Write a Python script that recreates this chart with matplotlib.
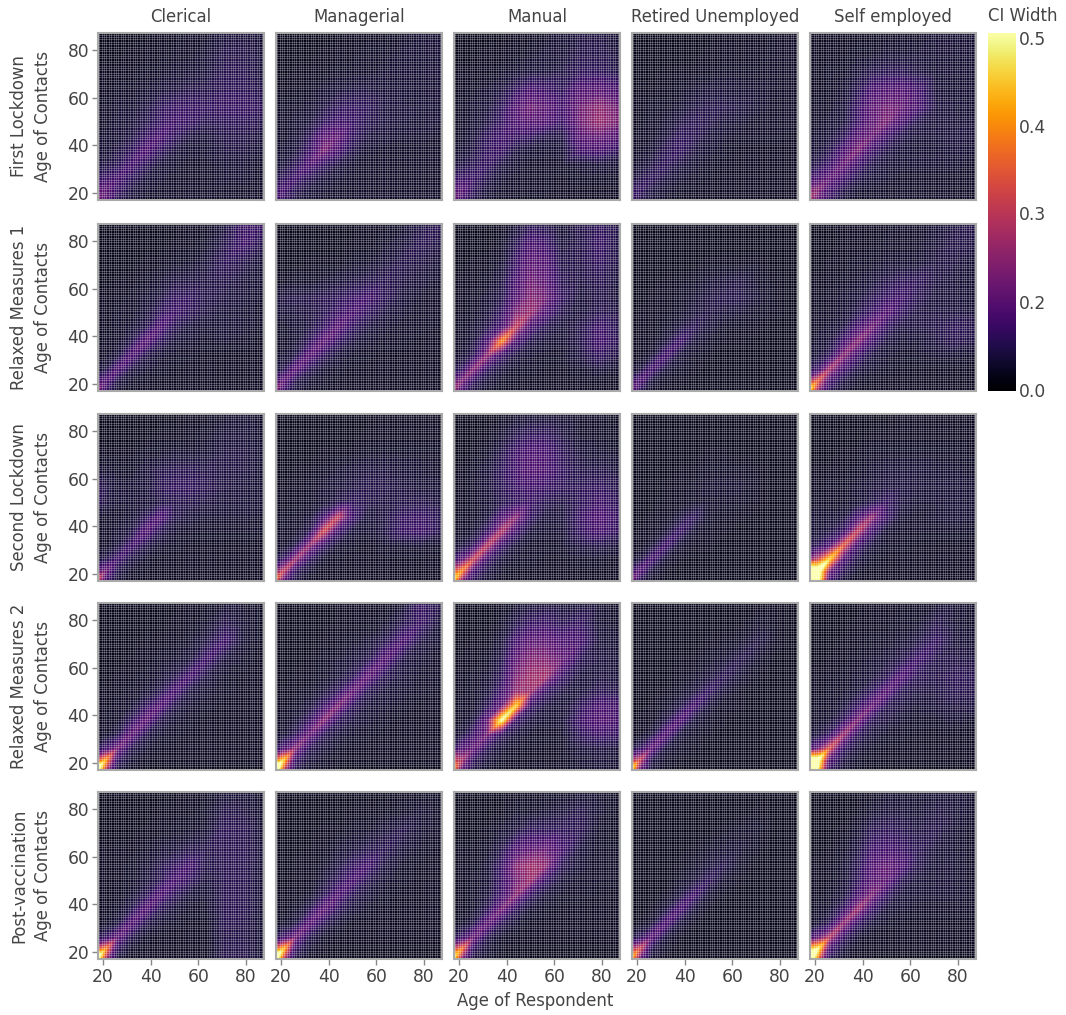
import numpy as np
import matplotlib
matplotlib.use('Agg')
import matplotlib.pyplot as plt
import matplotlib.tri as mtri
from matplotlib.colors import FuncNorm

occupations = ['Clerical', 'Managerial', 'Manual', 'Retired Unemployed', 'Self employed']
periods = ['First Lockdown', 'Relaxed Measures 1', 'Second Lockdown', 'Relaxed Measures 2', 'Post-vaccination']
ticks = [20, 40, 60, 80]
ci_ticks = [0.0, 0.2, 0.3, 0.4, 0.5]

ages = [17, 21, 26, 32, 38, 44, 50, 56, 63, 71, 79, 88]

# CI width x100, rows go from oldest contact (top) to youngest (bottom)
first_clerical = [
    [3,3,3,3,3,4,4,5,5,7,7,6], [3,3,3,4,4,4,5,5,6,9,9,7], [4,4,4,4,5,5,6,6,7,10,10,7], [4,4,5,5,6,7,8,9,9,11,11,9],
    [5,5,6,6,8,11,13,13,12,13,13,11], [5,5,6,7,9,12,14,13,10,11,11,9], [5,6,6,8,12,16,12,8,7,9,9,7], [6,6,8,11,17,12,8,6,6,8,8,6],
    [7,8,10,15,11,7,6,5,5,6,6,5], [11,13,15,11,7,6,5,5,5,6,6,5], [19,20,13,8,6,5,5,5,5,5,5,5], [23,19,10,7,5,5,5,5,5,5,5,5]]
first_managerial = [
    [3,3,3,3,3,3,4,4,4,5,6,6], [3,3,3,3,4,4,4,5,5,6,6,6], [3,3,4,4,4,5,5,5,6,6,6,6], [4,4,4,5,6,7,8,8,7,7,6,6],
    [4,5,5,6,8,11,12,11,8,7,7,6], [5,5,6,7,11,14,13,10,8,7,6,6], [5,5,6,10,19,20,12,8,7,6,6,5], [5,6,7,13,23,16,9,6,5,5,5,5],
    [6,7,10,17,12,8,6,5,5,5,5,5], [9,11,14,10,7,6,5,5,5,5,5,5], [14,15,10,7,6,5,5,5,5,5,5,5], [16,13,8,6,5,5,5,5,5,5,5,5]]
first_manual = [
    [3,3,3,3,3,4,4,5,6,8,8,6], [3,3,3,4,4,4,5,6,6,9,9,7], [4,4,4,4,5,6,7,7,8,11,11,8], [4,4,5,6,8,12,16,14,11,18,19,15],
    [5,5,6,7,11,18,22,20,15,22,25,21], [5,5,6,8,12,17,19,18,13,22,26,22], [5,5,7,11,14,13,12,9,8,19,21,17], [6,6,8,12,13,8,6,6,6,15,16,11],
    [7,8,10,12,8,6,5,5,5,6,7,6], [12,13,13,9,6,5,5,5,4,5,5,5], [20,19,11,7,5,5,5,5,4,4,4,4], [22,16,9,6,5,4,4,4,4,4,4,4]]
first_retired = [
    [3,3,3,3,3,3,3,4,4,4,5,5], [3,3,3,3,3,3,4,4,4,4,5,5], [3,3,3,4,4,4,4,5,5,5,5,5], [3,4,4,4,5,6,7,7,6,6,5,5],
    [4,4,5,5,6,8,9,9,8,6,5,5], [4,4,5,6,8,10,9,7,6,5,5,5], [4,5,5,7,11,10,7,6,5,5,5,4], [5,5,6,10,12,8,6,5,4,4,4,4],
    [5,6,8,11,8,6,5,4,4,4,4,4], [7,9,11,8,6,5,4,4,4,4,4,4], [12,12,8,6,5,4,4,4,4,4,4,4], [13,10,7,5,4,4,4,4,4,4,4,4]]
first_self = [
    [4,4,4,4,4,4,5,5,5,6,6,6], [4,4,4,4,5,5,6,6,6,6,6,6], [4,4,5,5,7,9,10,10,8,6,6,6], [4,4,5,6,10,16,18,18,15,7,6,6],
    [5,5,5,7,13,20,22,21,16,8,7,6], [5,5,6,7,13,20,23,16,9,7,7,7], [5,6,7,10,18,21,14,9,7,7,8,7], [6,7,9,16,23,14,9,7,6,6,7,6],
    [8,9,13,21,14,9,7,6,6,6,6,5], [14,16,20,14,9,7,6,5,5,5,5,5], [24,24,15,9,6,5,5,5,5,5,5,5], [28,21,12,7,5,5,5,5,5,5,5,5]]

relaxed1_clerical = [
    [3,3,3,3,3,3,3,4,4,7,13,12], [3,3,3,3,3,3,4,4,5,9,14,9], [3,3,3,3,4,4,5,5,7,11,9,6], [3,3,4,4,5,6,8,8,8,9,7,6],
    [4,4,4,5,6,8,12,12,9,8,7,5], [4,4,5,5,7,11,14,11,8,7,6,5], [4,4,5,6,9,17,10,7,6,7,6,5], [4,5,5,9,19,11,7,6,5,6,5,4],
    [5,5,7,17,9,6,5,5,4,4,4,4], [6,8,17,8,6,5,4,4,4,4,4,4], [15,18,8,5,4,4,4,4,4,4,4,4], [25,13,6,4,4,4,4,4,4,4,4,4]]
relaxed1_managerial = [
    [3,3,3,3,3,3,3,4,4,5,8,10], [3,3,3,3,3,3,4,4,5,7,10,8], [3,3,3,4,4,4,5,5,7,9,8,6], [4,4,5,5,6,7,8,9,10,8,7,5],
    [8,8,9,9,10,11,13,15,11,7,5,5], [7,7,7,8,10,13,16,12,8,6,5,5], [4,5,6,8,12,19,12,8,6,5,5,4], [4,5,6,11,20,12,8,6,5,5,4,4],
    [5,6,8,19,11,7,5,5,4,4,4,4], [7,9,19,10,6,5,4,4,4,4,4,4], [17,20,9,6,5,4,4,4,4,4,4,4], [26,14,7,5,4,4,4,4,4,4,4,4]]
relaxed1_manual = [
    [3,3,3,3,4,6,9,8,5,9,11,8], [3,3,3,3,5,10,16,14,7,9,13,8], [3,3,4,4,6,13,20,18,9,9,12,8], [4,4,4,5,8,16,22,20,10,8,10,7],
    [4,4,5,6,9,18,24,22,12,7,9,7], [4,4,5,7,12,23,26,17,9,7,10,8], [4,5,6,9,15,30,16,10,7,9,14,9], [5,5,7,16,39,16,9,7,6,9,15,10],
    [5,6,10,25,13,8,6,5,5,8,12,8], [8,11,24,11,7,5,5,4,4,5,7,5], [20,23,11,7,5,4,4,4,4,4,4,4], [27,16,8,5,4,4,4,4,4,4,4,4]]
relaxed1_retired = [
    [3,3,3,3,3,3,3,3,3,3,3,3], [3,3,3,3,3,3,3,3,3,3,3,3], [3,3,3,3,3,3,4,4,4,4,3,3], [3,3,3,4,4,5,6,7,8,5,4,3],
    [3,3,4,4,5,6,8,9,9,6,4,3], [3,4,4,4,5,7,8,7,6,5,4,3], [3,4,4,5,7,10,7,5,4,4,3,3], [4,4,4,7,14,7,5,4,4,3,3,3],
    [4,4,6,15,7,5,4,3,3,3,3,3], [5,7,15,7,5,4,3,3,3,3,3,3], [13,17,7,4,4,3,3,3,3,3,3,3], [22,11,5,4,3,3,3,3,3,3,3,3]]
relaxed1_self = [
    [3,3,3,4,4,4,4,5,5,6,8,9], [3,3,3,4,4,4,5,5,5,7,9,8], [3,3,4,4,5,5,6,6,6,8,8,6], [4,4,4,5,6,7,9,11,11,8,7,6],
    [4,4,5,6,7,10,13,14,10,7,7,6], [4,5,5,6,9,13,18,12,8,8,8,7], [5,5,6,8,15,22,12,8,8,9,11,9], [5,6,7,14,24,14,8,6,6,8,10,8],
    [6,7,10,24,14,8,6,5,5,6,6,5], [10,13,27,14,8,6,5,4,4,4,4,4], [27,35,15,8,5,4,4,4,4,4,4,4], [50,26,10,6,4,4,4,4,4,4,4,4]]

second_clerical = [
    [3,3,3,3,3,3,3,4,4,5,6,5], [3,3,3,3,3,4,4,4,5,7,7,5], [4,4,4,4,5,5,6,6,6,8,8,6], [6,6,5,5,7,9,10,10,9,8,8,6],
    [11,9,6,6,7,10,12,12,10,8,7,6], [12,8,6,6,6,8,9,9,8,7,7,6], [6,5,5,6,10,17,9,7,6,6,6,5], [5,5,6,8,18,10,6,5,5,5,5,5],
    [5,5,7,14,9,6,5,4,4,4,4,4], [7,9,14,8,5,4,4,4,4,4,4,4], [18,22,9,5,4,4,4,4,4,4,4,4], [36,15,7,4,4,4,4,4,4,4,4,4]]
second_managerial = [
    [3,3,3,3,3,3,3,3,4,4,4,4], [3,3,3,3,3,3,3,4,4,4,4,4], [3,3,3,3,4,4,4,5,5,5,5,5], [3,3,4,4,5,6,7,8,8,7,6,5],
    [4,4,4,5,6,7,8,9,9,8,7,6], [4,4,4,5,6,9,11,9,8,9,9,7], [4,5,5,6,14,30,14,7,8,12,13,9], [4,5,5,9,32,14,7,6,8,13,14,9],
    [5,5,8,25,12,6,5,4,5,6,6,5], [8,12,26,11,5,4,4,4,4,4,4,4], [22,30,11,6,4,4,4,4,4,4,4,4], [38,18,8,4,4,4,4,4,4,4,4,4]]
second_manual = [
    [3,3,3,3,4,5,5,5,5,5,5,4], [3,3,3,4,6,9,11,11,8,5,5,4], [3,3,4,5,9,14,17,16,11,7,6,5], [4,4,5,7,11,15,18,17,12,9,9,7],
    [4,4,5,7,10,13,14,13,11,11,12,9], [4,4,5,6,9,12,13,10,8,11,14,10], [4,5,5,7,16,24,12,7,7,13,17,12], [5,5,6,12,28,14,7,6,6,12,16,11],
    [6,7,11,29,13,7,5,5,5,8,9,7], [12,18,31,13,7,5,5,4,4,5,5,4], [32,39,15,8,5,4,4,4,4,4,4,4], [48,24,10,6,4,4,4,4,4,4,4,4]]
second_retired = [
    [3,3,3,3,3,3,3,3,3,3,3,3], [3,3,3,3,3,3,3,3,3,3,3,3], [3,3,3,3,3,3,4,4,3,3,3,3], [3,3,3,3,4,4,5,5,5,4,3,3],
    [3,3,3,4,4,5,6,6,6,4,3,3], [3,3,3,4,4,5,5,5,5,4,3,3], [3,3,4,4,7,11,5,4,4,3,3,3], [3,4,4,6,13,6,4,4,3,3,3,3],
    [4,4,6,14,6,4,4,3,3,3,3,3], [5,7,15,6,4,3,3,3,3,3,3,3], [14,18,7,4,3,3,3,3,3,3,3,3], [25,10,5,3,3,3,3,3,3,3,3,3]]
second_self = [
    [3,3,3,3,3,3,3,4,4,4,4,4], [3,3,3,3,3,4,4,4,4,4,4,4], [3,3,3,4,4,5,5,5,5,5,5,4], [4,4,4,4,5,6,7,7,7,6,6,5],
    [4,4,5,5,6,7,8,8,7,7,7,6], [5,5,5,5,6,9,12,8,6,6,7,6], [6,6,6,7,15,25,13,6,5,6,7,6], [6,6,8,12,30,14,6,5,5,5,5,5],
    [9,10,16,34,14,7,5,5,4,4,4,4], [22,30,45,16,8,5,4,4,4,4,4,4], [60,58,22,10,5,4,4,4,4,4,4,4], [75,55,14,6,4,4,4,4,4,4,4,4]]

relaxed2_clerical = [
    [3,3,3,3,3,3,3,4,4,5,5,4], [3,3,3,3,3,3,4,4,5,9,6,4], [3,3,3,3,4,4,4,5,8,14,6,4], [3,3,3,4,4,5,6,7,14,7,5,4],
    [3,3,4,4,5,6,9,15,8,5,4,4], [4,4,4,5,6,9,16,8,6,5,4,4], [4,4,5,6,11,18,9,6,5,4,4,4], [4,5,5,11,20,9,6,5,4,4,4,4],
    [5,5,8,20,9,6,5,4,4,4,4,4], [8,14,22,9,6,4,4,4,4,4,4,4], [30,42,12,6,4,4,4,4,4,4,4,4], [60,30,8,4,3,3,3,3,3,3,3,3]]
relaxed2_managerial = [
    [3,3,3,3,3,4,4,4,4,5,12,8], [3,3,3,3,3,4,4,4,5,9,13,6], [3,3,3,3,4,4,5,6,9,16,8,5], [3,3,3,4,5,6,7,9,18,8,6,5],
    [3,3,4,4,5,7,10,20,10,7,5,5], [4,4,4,5,7,11,21,10,7,6,5,4], [4,4,5,7,13,23,11,7,6,5,4,4], [4,5,6,12,24,11,8,6,5,4,4,4],
    [5,6,10,21,10,7,5,5,4,4,4,4], [9,16,24,10,7,5,4,4,4,4,4,4], [34,45,13,7,5,4,4,4,4,4,4,4], [65,32,9,5,4,3,3,3,3,3,3,3]]
relaxed2_manual = [
    [3,3,3,3,4,5,6,6,6,6,6,5], [3,3,3,3,5,9,12,13,10,12,6,5], [3,3,4,4,7,15,20,20,17,15,7,6], [4,4,4,5,9,20,24,24,21,10,8,7],
    [4,4,5,6,11,23,27,27,13,7,8,7], [4,4,5,7,14,25,26,13,8,7,10,9], [4,5,5,10,20,44,13,8,6,11,16,14], [5,5,7,20,50,13,8,6,6,14,18,15],
    [5,7,13,22,11,7,5,5,5,11,14,12], [9,17,20,10,6,5,4,4,4,7,8,7], [32,28,11,7,5,4,4,4,4,6,7,6], [42,20,8,5,4,4,4,4,4,5,6,5]]
relaxed2_retired = [
    [3,3,3,3,3,3,3,3,3,3,4,3], [3,3,3,3,3,3,3,3,3,5,4,3], [3,3,3,3,3,3,4,4,5,8,4,3], [3,3,3,3,4,4,5,6,9,5,3,3],
    [3,3,3,3,4,5,7,10,6,4,3,3], [3,3,3,4,5,7,12,7,4,3,3,3], [3,3,4,5,8,15,7,4,4,3,3,3], [3,4,4,8,17,7,5,4,3,3,3,3],
    [4,4,7,18,7,5,4,3,3,3,3,3], [7,11,20,7,5,4,3,3,3,3,3,3], [26,32,9,5,4,3,3,3,3,3,3,3], [52,22,7,4,3,3,3,3,3,3,3,3]]
relaxed2_self = [
    [3,3,3,3,3,4,4,4,4,5,6,5], [3,3,3,3,4,4,4,5,5,9,6,5], [3,3,3,4,4,5,5,6,8,12,7,6], [3,3,4,4,5,6,7,9,14,9,9,8],
    [4,4,4,5,6,7,10,17,10,9,11,10], [4,4,5,5,7,11,19,10,8,8,10,9], [4,5,5,7,12,21,10,8,6,7,8,8], [5,5,6,11,23,10,8,6,5,5,6,5],
    [6,7,11,26,11,7,5,5,4,4,4,4], [14,20,33,12,7,5,4,4,4,4,4,4], [58,56,17,8,5,4,4,4,4,4,4,4], [72,50,12,6,4,3,3,3,3,3,3,3]]

postvac_clerical = [
    [3,3,3,3,3,3,3,4,4,6,6,4], [3,3,3,3,3,4,4,4,5,9,8,5], [3,3,3,3,4,4,5,5,6,11,10,6], [4,4,4,4,5,6,7,9,9,10,10,7],
    [4,4,4,5,6,9,12,15,9,10,10,6], [4,4,4,5,7,10,16,12,7,10,10,6], [4,4,4,6,10,17,11,7,6,10,10,6], [4,4,5,9,18,10,7,5,5,10,10,6],
    [4,5,7,18,9,6,5,4,4,10,9,6], [8,12,20,9,5,4,4,4,4,9,9,6], [32,40,11,5,4,4,4,4,4,9,9,6], [60,28,7,4,4,4,4,4,4,9,9,6]]
postvac_managerial = [
    [3,3,3,3,3,3,3,3,3,4,4,4], [3,3,3,3,3,3,4,4,4,5,6,5], [3,3,3,3,4,4,5,5,7,9,6,5], [3,3,3,4,4,6,7,9,10,7,5,4],
    [3,3,4,4,5,8,12,15,8,5,4,4], [3,3,4,4,7,11,16,10,6,5,4,4], [4,4,4,5,10,17,10,7,5,4,4,4], [4,4,5,9,20,11,7,5,4,4,4,4],
    [4,5,7,19,10,6,4,4,4,4,4,4], [9,14,22,9,5,4,4,4,4,4,4,4], [35,44,12,6,4,3,3,3,3,3,3,3], [62,30,8,4,3,3,3,3,3,3,3,3]]
postvac_manual = [
    [3,3,3,3,3,4,4,4,4,5,5,4], [3,3,3,3,4,5,5,6,7,9,6,4], [3,3,3,4,6,8,11,11,11,10,5,4], [4,4,4,5,9,17,20,21,15,7,5,5],
    [4,4,4,6,13,24,27,25,10,6,5,5], [4,4,5,6,13,22,26,13,7,5,5,5], [4,4,5,7,14,24,12,7,5,5,4,4], [4,4,5,10,22,11,6,5,4,4,4,4],
    [4,5,8,20,10,6,4,4,4,4,4,4], [8,13,21,9,5,4,4,4,4,4,4,4], [30,38,11,6,4,3,3,3,3,3,3,3], [50,25,8,5,3,3,3,3,3,3,3,3]]
postvac_retired = [
    [3,3,3,3,3,3,3,3,3,3,3,3], [3,3,3,3,3,3,3,3,3,4,3,3], [3,3,3,3,3,3,3,4,5,5,3,3], [3,3,3,3,3,4,5,6,6,4,3,3],
    [3,3,3,3,4,5,7,9,5,3,3,3], [3,3,3,3,5,7,11,6,4,3,3,3], [3,3,3,4,7,14,6,4,3,3,3,3], [3,3,4,7,16,7,4,3,3,3,3,3],
    [3,4,6,17,7,4,3,3,3,3,3,3], [7,11,19,7,4,3,3,3,3,3,3,3], [28,33,9,5,3,3,3,3,3,3,3,3], [46,22,6,4,3,3,3,3,3,3,3,3]]
postvac_self = [
    [3,3,3,3,3,4,5,5,5,6,6,5], [3,3,3,3,4,6,7,7,6,8,7,5], [3,3,3,4,6,10,11,10,8,9,6,5], [3,3,4,5,8,14,15,13,10,7,6,5],
    [4,4,4,6,10,18,21,17,9,6,6,5], [4,4,4,6,11,19,20,10,7,6,6,5], [4,4,5,7,15,23,12,7,6,6,6,5], [4,5,6,12,26,13,7,6,5,5,5,5],
    [5,6,10,25,12,7,5,4,4,4,4,4], [13,19,29,12,6,4,4,4,4,4,4,4], [44,50,15,7,4,4,4,4,4,4,4,4], [65,38,10,5,4,3,3,3,3,3,3,3]]

panels = [
    [first_clerical, first_managerial, first_manual, first_retired, first_self],
    [relaxed1_clerical, relaxed1_managerial, relaxed1_manual, relaxed1_retired, relaxed1_self],
    [second_clerical, second_managerial, second_manual, second_retired, second_self],
    [relaxed2_clerical, relaxed2_managerial, relaxed2_manual, relaxed2_retired, relaxed2_self],
    [postvac_clerical, postvac_managerial, postvac_manual, postvac_retired, postvac_self],
]

W, H = 1066, 1015
TXT = '#444444'
FRAME = '#aaaaaa'
col_x = [98, 276, 454, 632, 810]
row_y = [33, 224, 414, 603, 792]
PW, PH = 166, 167


def px_axes(fig, x, y, w, h):
    return fig.add_axes([x / W, 1 - (y + h) / H, w / W, h / H])


# colour scale of the reference: the ticks are evenly spaced along the bar
def to_pos(v):
    return np.interp(v, ci_ticks, [0, 0.25, 0.5, 0.75, 1.0])


def from_pos(p):
    return np.interp(p, [0, 0.25, 0.5, 0.75, 1.0], ci_ticks)


norm = FuncNorm((to_pos, from_pos), vmin=0, vmax=0.5)
cmap = plt.get_cmap('inferno').copy()
cmap.set_over('white')

# split every quad along the age diagonal so the y=x ridge stays continuous
n = len(ages)
xx, yy = np.meshgrid(ages, ages)
tris = []
for j in range(n - 1):
    for i in range(n - 1):
        a, b, c, d = j * n + i, j * n + i + 1, (j + 1) * n + i, (j + 1) * n + i + 1
        tris += [[a, b, d], [a, d, c]]
tri = mtri.Triangulation(xx.ravel(), yy.ravel(), tris)
levels = np.linspace(0, 0.5, 101)

plt.rcParams['font.family'] = ['DejaVu Sans']
fig = plt.figure(figsize=(W / 100, H / 100), dpi=100, facecolor='white')

for r, period in enumerate(periods):
    for c, occ in enumerate(occupations):
        ax = px_axes(fig, col_x[c], row_y[r], PW, PH)
        z = np.array(panels[r][c], dtype=float)[::-1] / 100
        ax.tricontourf(tri, z.ravel(), levels=levels, cmap=cmap, norm=norm, extend='max')
        # thin light cell borders, one per year of age
        ax.vlines(np.arange(18.5, 88), 17, 88, color='white', lw=0.6, alpha=0.3)
        ax.hlines(np.arange(17.5, 88), 17, 88, color='white', lw=0.6, alpha=0.3)
        ax.set_xlim(18, 87.5)
        ax.set_ylim(17, 87.2)
        for s in ax.spines.values():
            s.set_color(FRAME)
            s.set_linewidth(1.5)
        ax.set_xticks(ticks if r == 4 else [])
        ax.set_yticks(ticks if c == 0 else [])
        ax.tick_params(length=4.3, width=1, color='#888888', labelcolor=TXT, labelsize=12.3, pad=2)
        if r == 0:
            ax.set_title(occ, fontsize=11.9, color=TXT, pad=8)
        if c == 0:
            ax.set_ylabel('Age of Contacts', fontsize=11.9, color=TXT)
            ax.yaxis.set_label_coords(-46 / PW, 0.5)
            ax.text(-79 / PW, 0.5, period, transform=ax.transAxes, rotation=90,
                    ha='center', va='center', fontsize=11.9, color=TXT)

fig.text(535 / W, 1 - 1001 / H, 'Age of Respondent', ha='center', va='center', fontsize=11.9, color=TXT)

# colour bar
cax = px_axes(fig, 988, 33, 27, 358)
cax.imshow(np.linspace(1, 0, 256)[:, None], cmap='inferno', aspect='auto', extent=[0, 1, 0, 1])
cax.set_xticks([])
cax.yaxis.tick_right()
cax.set_yticks([(391 - y) / 358 for y in [390, 302, 213, 126, 38]])
cax.set_yticklabels(['%.1f' % v for v in ci_ticks])
cax.tick_params(length=0, labelcolor=TXT, labelsize=12.3, pad=3)
for s in cax.spines.values():
    s.set_visible(False)
fig.text(988 / W, 1 - 16 / H, 'CI Width', ha='left', va='center', fontsize=11.9, color=TXT)

fig.savefig('out.png', dpi=100, facecolor='white')
plt.close(fig)
